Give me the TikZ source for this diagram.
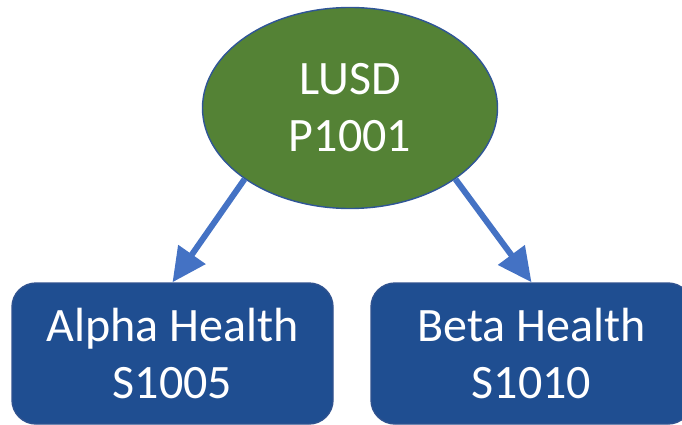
\documentclass[tikz,border=0pt]{standalone}
\usepackage{fontspec}
\setmainfont{Carlito}
\usetikzlibrary{arrows.meta}
\usetikzlibrary{shapes.geometric}
\definecolor{parentgreen}{HTML}{548235}
\definecolor{parentline}{HTML}{2F5597}
\definecolor{childblue}{HTML}{1F4E91}
\definecolor{childline}{HTML}{2F528F}
\definecolor{linkblue}{HTML}{4472C4}

\begin{document}
\begin{tikzpicture}[x=1pt,
                    y=-1pt,
                    >={Triangle[length=34pt,width=32pt]},
                    parent/.style={ellipse,draw=parentline,line width=1.4pt,fill=parentgreen,
                                   minimum width=295pt,minimum height=201pt,inner sep=0pt},
                    child/.style={rectangle,rounded corners=24pt,draw=childline,line width=1.4pt,
                                  fill=childblue,minimum width=321pt,minimum height=141pt},
                    lbl/.style={text=white,align=center,font=\fontsize{48}{57}\selectfont},
                    link/.style={->,draw=linkblue,line width=6pt}
                    ]
\useasboundingbox (0,0) rectangle (682,425);
% parent
  \node[parent,lbl] (lusd) at (350,108) {LUSD\\P1001};
% children
  \node[child,lbl] (alpha) at (172.5,353.5) {Alpha Health\\S1005};
  \node[child,lbl] (beta) at (531.5,353.5) {Beta Health\\S1010};

\draw[link] (lusd.214) -- (alpha.north);
\draw[link] (lusd.326) -- (beta.north);
\end{tikzpicture}
\end{document}
